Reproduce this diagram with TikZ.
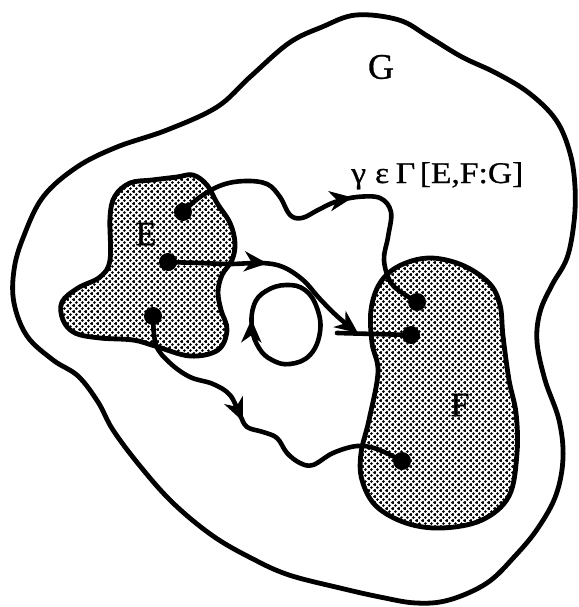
\documentclass[tikz,border=0pt]{standalone}
\usepackage{graphicx}
\usepackage{fontspec}
\setmainfont{Liberation Serif}[FakeBold=0.8]
\usetikzlibrary{arrows.meta,decorations.markings,patterns.meta}
\tikzdeclarepattern{
  name=halftone, type=colored,
  bottom left={(0pt,0pt)}, top right={(6.4pt,6.4pt)},
  tile size={(6.4pt,6.4pt)},
  code={
    \fill[black] (1.6pt,1.6pt) circle (1.6pt);
    \fill[black] (4.8pt,4.8pt) circle (1.6pt);
  }
}
\tikzset{bigtip/.tip={Stealth[length=23pt,width=20pt,inset=7pt]}}
\begin{document}
\begin{tikzpicture}[x=1pt,y=-1pt,
  outline/.style={line width=4.8pt, line join=round},
  blob/.style={outline, pattern=halftone},
  curve/.style={line width=4.6pt, line cap=round, line join=round},
  dotnode/.style={circle, fill=black, inner sep=0pt, minimum size=18pt},
  lbl/.style={font=\fontsize{34}{34}\selectfont, inner sep=0pt},
  markat/.style={postaction={decorate}, decoration={markings, mark=at position #1 with {\arrow{bigtip}}}},
]
\useasboundingbox (0,0) rectangle (578,607);
% region G
\draw[outline] plot[smooth cycle, tension=0.6] coordinates {
  (356,15) (399,20) (429,37) (462,57) (496,73) (529,93) (556,120) (570,153)
  (575,187) (574,222) (567,258) (552,285) (540,312) (537,342) (545,380)
  (559,420) (563,458) (556,495) (538,528) (515,556) (487,583) (449,600)
  (416,603) (380,597) (340,588) (289,575) (253,559) (213,536) (173,503)
  (140,466) (113,430) (98,402) (78,376) (53,360) (27,336) (14,303) (14,270)
  (23,238) (43,197) (77,167) (117,147) (167,130) (217,107) (250,77) (289,43) (322,27)};
% region E
\draw[blob] plot[smooth cycle, tension=0.6] coordinates {
  (130,183) (152,180) (177,177) (193,175) (207,185) (217,203) (230,223)
  (235,243) (232,260) (222,275) (218,292) (221,310) (227,330) (218,350)
  (190,356) (155,346) (133,340) (100,338) (75,333) (63,320) (62,302)
  (78,288) (100,277) (110,260) (110,217) (115,196)};
% region F
\draw[blob] plot[smooth cycle, tension=0.6] coordinates {
  (399,266) (429,258) (462,265) (489,283) (500,305) (503,336) (509,380)
  (516,413) (517,453) (509,496) (482,520) (442,528) (406,523) (376,506)
  (362,480) (361,453) (369,420) (378,372) (372,343) (371,310) (380,283)};
% dots
\node[dotnode] (e1) at (183,212) {};
\node[dotnode] (e2) at (168,262) {};
\node[dotnode] (e3) at (153,316) {};
\node[dotnode] (f1) at (417,302) {};
\node[dotnode] (f2) at (411,335) {};
\node[dotnode] (f3) at (402,461) {};
\coordinate (mj) at (358,333);
\coordinate (mt) at (337,333);
% upper curve
\draw[curve, markat=0.57] plot[smooth, tension=0.6] coordinates {
  (e1.center) (200,197) (222,185) (245,181) (267,184) (280,197) (290,215)
  (302,218) (318,210) (335,202) (357,197) (380,198) (391,212) (388,237)
  (384,260) (391,283) (407,296) (f1.center)};
% middle curve
\draw[curve, markat=0.46, -bigtip] plot[smooth, tension=0.6] coordinates {
  (e2.center) (200,263) (230,264) (262,263) (283,267) (303,280) (320,299)
  (338,317) (mj)};
\draw[curve] (mt) -- (f2.center);
% loop
\draw[curve, markat=0.59] plot[smooth cycle, tension=0.7] coordinates {
  (305,290) (317,308) (320,332) (310,355) (290,364) (272,360) (259,348)
  (252,328) (254,305) (266,291) (286,285)};
% lower curve
\draw[curve, markat=0.45] plot[smooth, tension=0.6] coordinates {
  (e3.center) (156,345) (170,363) (190,377) (213,384) (230,395) (240,415)
  (247,427) (263,432) (277,438) (287,453) (300,463) (313,465) (333,453)
  (357,446) (377,449) (f3.center)};
% labels
\node[lbl, font=\fontsize{36}{36}\selectfont] (lg) at (381,67) {G};
\node[lbl] (le) at (146,234) {E};
\node[lbl] (lf) at (460,405) {F};
\node[lbl, font=\fontsize{30}{30}\selectfont, anchor=base west] (lt) at (351,183)
  {\scalebox{1.12}[1]{γ\hspace{8pt}ε\hspace{6pt}Γ\hspace{4pt}[E,F:G]}};
\end{tikzpicture}
\end{document}
